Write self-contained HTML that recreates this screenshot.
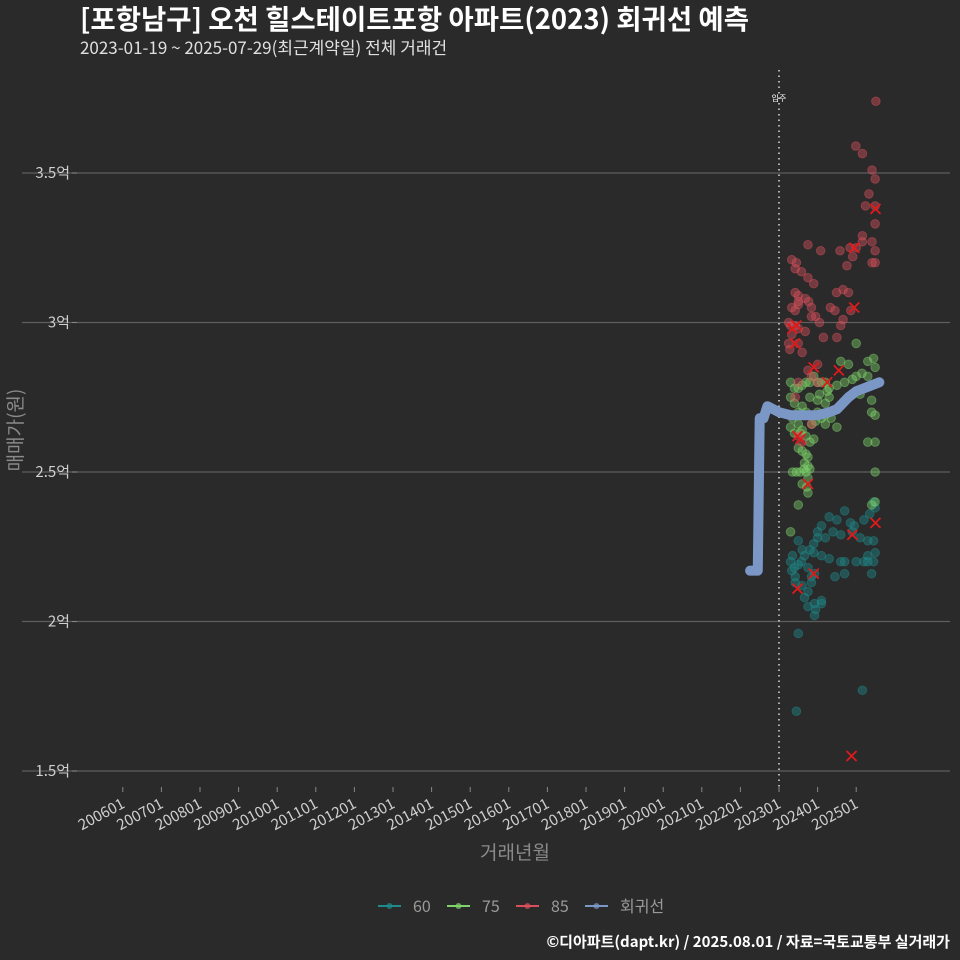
<!DOCTYPE html>
<html><head><meta charset="utf-8"><style>
html,body{margin:0;padding:0;background:#2a2a2b;}
svg{display:block;font-family:"Noto Sans CJK KR","Liberation Sans",sans-serif;}
</style></head><body>
<svg id="chart" width="960" height="960" viewBox="0 0 960 960">
<rect width="960" height="960" fill="#2a2a2b"/>
<text x="80" y="29" fill="#ffffff" font-size="27.5" font-weight="bold">[포항남구] 오천 힐스테이트포항 아파트(2023) 회귀선 예측</text>
<text x="80" y="54" fill="#e0e0e0" font-size="17">2023-01-19 ~ 2025-07-29(최근계약일) 전체 거래건</text>
<g id="grid"></g>
<g id="yticks"></g>
<g id="xticks"></g>
<line x1="779" y1="70" x2="779" y2="790" stroke="#dddddd" stroke-width="1.5" stroke-dasharray="1.5,4"/>
<text x="779" y="101" fill="#ffffff" font-size="8" text-anchor="middle">입주</text>
<g id="pts"></g>
<g id="reg"></g>
<g id="marks"></g>
<text transform="translate(22,430) rotate(-90)" fill="#8a8a8a" font-size="19" text-anchor="middle">매매가(원)</text>
<text x="515" y="859" fill="#8a8a8a" font-size="19" text-anchor="middle">거래년월</text>
<g id="legend"></g>
<text x="950" y="947" fill="#ffffff" font-size="15" font-weight="bold" text-anchor="end">©디아파트(dapt.kr) / 2025.08.01 / 자료=국토교통부 실거래가</text>
</svg>
<script>
const yTicks=[1.5,2,2.5,3,3.5];
const yTickLabels=["1.5억","2억","2.5억","3억","3.5억"];
const xTickLabels=["200601","200701","200801","200901","201001","201101","201201","201301","201401","201501","201601","201701","201801","201901","202001","202101","202201","202301","202401","202501"];
const s60=[[2023.33,2.17],[2023.42,2.15],[2023.5,2.19],[2023.58,2.2],[2023.66,2.22],[2023.75,2.18],[2023.84,2.15],[2023.42,2.13],[2023.6,2.12],[2023.75,2.1],[2023.84,2.13],[2023.92,2.16],[2023.66,2.08],[2023.75,2.05],[2023.92,2.06],[2023.95,2.04],[2024.1,2.06],[2023.92,2.02],[2024.1,2.07],[2023.5,1.96],[2023.45,1.7],[2025.16,1.77],[2024.0,2.3],[2024.1,2.32],[2024.3,2.35],[2024.5,2.34],[2024.7,2.37],[2024.85,2.33],[2025.2,2.34],[2025.35,2.36],[2025.49,2.38],[2025.45,2.4],[2023.9,2.26],[2024.0,2.28],[2024.2,2.28],[2024.4,2.3],[2024.6,2.29],[2024.9,2.3],[2025.1,2.28],[2025.3,2.27],[2025.45,2.27],[2025.49,2.23],[2023.5,2.27],[2023.6,2.24],[2023.8,2.24],[2023.9,2.23],[2024.1,2.22],[2024.3,2.21],[2024.6,2.2],[2024.7,2.2],[2025.0,2.2],[2025.2,2.2],[2025.3,2.2],[2025.45,2.2],[2025.4,2.16],[2024.45,2.15],[2024.7,2.16],[2025.3,2.22],[2024.95,2.32],[2023.3,2.2],[2023.35,2.22],[2023.4,2.18]];
const s75=[[2023.3,2.8],[2023.4,2.78],[2023.5,2.78],[2023.6,2.79],[2023.7,2.8],[2023.8,2.8],[2023.9,2.82],[2024.0,2.8],[2024.1,2.8],[2024.2,2.8],[2024.3,2.78],[2024.5,2.79],[2024.7,2.8],[2024.9,2.81],[2025.0,2.82],[2025.15,2.83],[2025.3,2.87],[2025.45,2.88],[2025.49,2.85],[2025.3,2.82],[2024.8,2.86],[2024.6,2.87],[2025.0,2.93],[2023.3,2.75],[2023.4,2.73],[2023.6,2.72],[2023.8,2.75],[2024.0,2.74],[2024.2,2.73],[2024.3,2.75],[2025.1,2.76],[2025.4,2.74],[2025.4,2.7],[2025.49,2.69],[2023.35,2.68],[2023.5,2.7],[2023.7,2.7],[2024.0,2.7],[2024.2,2.69],[2024.35,2.68],[2023.3,2.65],[2023.5,2.66],[2023.6,2.64],[2023.85,2.66],[2023.95,2.67],[2024.1,2.68],[2024.2,2.66],[2024.5,2.65],[2023.4,2.63],[2023.55,2.63],[2023.7,2.62],[2023.8,2.6],[2023.9,2.61],[2023.5,2.58],[2023.6,2.57],[2023.7,2.56],[2023.75,2.55],[2023.66,2.53],[2023.75,2.52],[2023.35,2.5],[2023.45,2.5],[2023.55,2.5],[2023.65,2.51],[2023.7,2.5],[2023.8,2.51],[2025.49,2.5],[2023.75,2.48],[2023.6,2.46],[2023.72,2.45],[2023.75,2.43],[2023.5,2.39],[2025.4,2.39],[2025.49,2.4],[2023.3,2.3],[2025.3,2.6],[2025.49,2.6],[2024.05,2.76],[2024.25,2.77]];
const s85=[[2025.51,3.74],[2024.99,3.59],[2025.16,3.565],[2025.41,3.51],[2025.49,3.48],[2025.33,3.43],[2025.24,3.39],[2025.49,3.39],[2025.49,3.33],[2025.16,3.29],[2025.16,3.27],[2025.41,3.27],[2023.75,3.26],[2024.08,3.24],[2024.58,3.24],[2024.84,3.25],[2024.91,3.22],[2025.0,3.25],[2025.49,3.24],[2025.41,3.2],[2025.49,3.2],[2024.76,3.19],[2023.33,3.21],[2023.45,3.2],[2023.42,3.18],[2023.58,3.17],[2023.75,3.15],[2023.9,3.13],[2024.66,3.11],[2024.49,3.1],[2024.8,3.1],[2023.42,3.1],[2023.5,3.09],[2023.5,3.07],[2023.5,3.06],[2023.68,3.08],[2023.77,3.07],[2023.84,3.05],[2023.33,3.05],[2023.42,3.04],[2023.84,3.02],[2023.95,3.02],[2024.33,3.05],[2024.45,3.04],[2024.66,3.01],[2024.86,3.04],[2023.25,3.0],[2023.3,2.99],[2023.42,2.99],[2023.5,2.98],[2023.33,2.96],[2023.68,2.97],[2024.05,3.0],[2024.15,2.95],[2024.5,2.95],[2024.6,2.99],[2023.25,2.93],[2023.28,2.91],[2023.5,2.93],[2023.6,2.9],[2024.0,2.86],[2023.75,2.84],[2023.84,2.82],[2024.0,2.8],[2023.5,2.8],[2023.42,2.75],[2023.84,2.66],[2023.5,2.62],[2023.6,2.6]];
const regX=[2022.25,2022.45,2022.5,2022.6,2022.7,2022.85,2023.0,2023.3,2023.6,2024.0,2024.3,2024.5,2024.65,2024.8,2025.0,2025.2,2025.4,2025.6];
const regY=[2.17,2.17,2.68,2.68,2.72,2.71,2.7,2.69,2.69,2.69,2.7,2.71,2.73,2.75,2.77,2.78,2.79,2.8];
const markX=[2023.35,2023.45,2023.48,2023.55,2023.75,2023.9,2024.25,2024.55,2024.95,2025.5,2024.95,2023.48,2023.9,2024.9,2025.5,2024.88,2023.42];
const markY=[2.98,2.99,2.62,2.61,2.46,2.85,2.8,2.84,3.25,3.38,3.05,2.11,2.16,2.29,2.33,1.55,2.93];

const NS="http://www.w3.org/2000/svg";
const xs=y=>779+(y-2023)*38.6;
const ys=v=>771-(v-1.5)*299;
function mk(tag,attrs,parent){const e=document.createElementNS(NS,tag);for(const k in attrs)e.setAttribute(k,attrs[k]);parent.appendChild(e);return e;}
const grid=document.getElementById('grid'),yt=document.getElementById('yticks'),xt=document.getElementById('xticks');
yTicks.forEach((v,i)=>{
  const l=mk('line',{x1:22,x2:950,y1:ys(v),y2:ys(v),stroke:'#5e5e5e','stroke-width':1.2},grid);
  
  
  const tk=mk('line',{x1:72,x2:77,y1:ys(v),y2:ys(v),stroke:'#888'},yt);
  
  
  const t=mk('text',{x:70,y:ys(v)+5,fill:'#cfcfcf','font-size':15,'text-anchor':'end'},yt);
  t.textContent=yTickLabels[i];
  
  
});
xTickLabels.forEach(s=>{
  const yr=+s.slice(0,4)+(+s.slice(4)-1)/12;const x=xs(yr);
  const tk=mk('line',{x1:x,x2:x,y1:787,y2:792,stroke:'#888'},xt);
  
  
  const t=mk('text',{transform:`translate(${x+3},${807}) rotate(-28)`,fill:'#cfcfcf','font-size':15,'text-anchor':'end'},xt);
  t.textContent=s;
  
  
});
const pts=document.getElementById('pts');
[[s60,'#1f8a8a'],[s75,'#7ed36a'],[s85,'#d9505a']].forEach(([arr,c])=>{
  arr.forEach(p=>{
    const e=mk('circle',{cx:xs(p[0]),cy:ys(p[1]),r:4.3,fill:c,'fill-opacity':0.42,stroke:c,'stroke-opacity':0.45},pts);
    
    
  });
});
const reg=document.getElementById('reg');
const rp=mk('polyline',{points:regX.map((x,i)=>xs(x)+','+ys(regY[i])).join(' '),fill:'none',stroke:'#7b97c6','stroke-width':10,'stroke-linecap':'round','stroke-linejoin':'round'},reg);


const marks=document.getElementById('marks');
markX.forEach((x,i)=>{
  const cx=xs(x),cy=ys(markY[i]);
  const e=mk('path',{d:`M${cx-5},${cy-5}L${cx+5},${cy+5}M${cx-5},${cy+5}L${cx+5},${cy-5}`,stroke:'#e01a1a','stroke-width':1.8},marks);
  
  
});
const lg=document.getElementById('legend');
[['60','#1f8a8a',378],['75','#7ed36a',447],['85','#d9505a',516],['회귀선','#7b97c6',585]].forEach(([n,c,x])=>{
  const g=mk('g',{},lg);
  
  
  mk('line',{x1:x,x2:x+23,y1:906,y2:906,stroke:c,'stroke-width':2},g);
  mk('circle',{cx:x+11.5,cy:906,r:3,fill:c,'fill-opacity':0.7},g);
  const t=mk('text',{x:x+35,y:912,fill:'#9a9a9a','font-size':16},g);t.textContent=n;
});
</script>
</body></html>
